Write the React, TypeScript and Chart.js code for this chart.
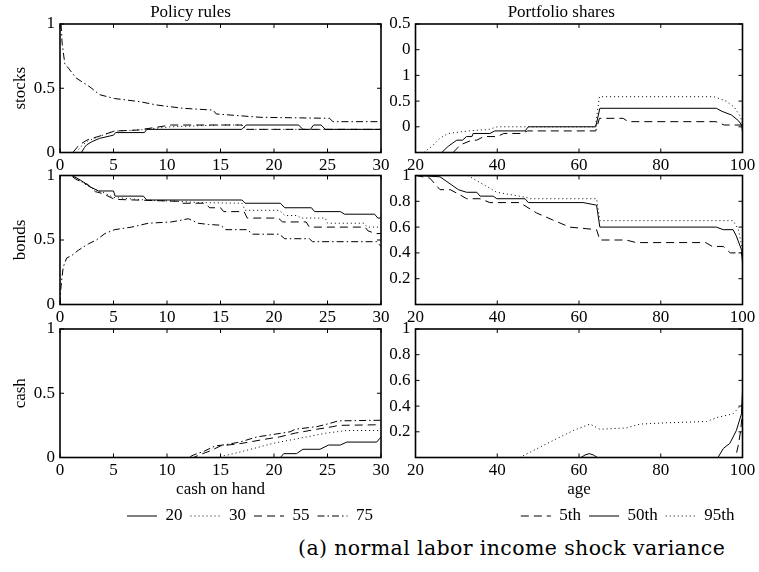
import React, { useEffect, useRef } from 'react';
import { Chart, registerables } from 'chart.js';
Chart.register(...registerables);

const FONT = "'Liberation Serif', 'Times New Roman', Times, serif";

// ---- tick values / labels ----
const cashTicks = [0, 5, 10, 15, 20, 25, 30];
const ageTicks = [20, 40, 60, 80, 100];
const policyYTicks = [0, 0.5, 1];
const shareYTicks = [0.2, 0.4, 0.6, 0.8, 1];
const stockShareYTicks = [0, 0.5, 1, 1.5, 2];
const stockShareYLabels = ['0', '0.5', '1', '0', '0.5'];

const policyLabels = ['20', '30', '55', '75'];
const shareLabels = ['5th', '50th', '95th'];

// ---- policy rules: [cash on hand, share] ----
const stocks20 = [[0, 0], [2, 0], [2.3, 0.04], [2.5, 0.06], [3, 0.085], [3.7, 0.11], [5, 0.135], [5.2, 0.155], [7.9, 0.155], [8.1, 0.18], [17, 0.18], [17.4, 0.214], [22.3, 0.214], [22.7, 0.18], [23.4, 0.18], [23.7, 0.214], [24.4, 0.214], [24.8, 0.18], [30, 0.18]];
const stocks30 = [[0, 0], [1.5, 0], [2, 0.05], [2.6, 0.09], [3.5, 0.12], [5, 0.165], [7.3, 0.175], [10.4, 0.2], [15, 0.214], [17, 0.214], [17.4, 0.18], [30, 0.18]];
const stocks55 = [[0, 0], [1.2, 0], [1.8, 0.06], [2.6, 0.1], [3.6, 0.125], [5.1, 0.167], [7.3, 0.175], [10.4, 0.214], [17, 0.214], [17.4, 0.18], [30, 0.18]];
const stocks75 = [[0.1, 1.0], [0.2, 0.85], [0.45, 0.69], [0.8, 0.655], [1.5, 0.58], [2.8, 0.51], [3.7, 0.45], [5.1, 0.42], [7.5, 0.395], [9, 0.37], [11.5, 0.344], [14.3, 0.33], [14.6, 0.3], [18.7, 0.274], [25.2, 0.266], [25.5, 0.24], [30, 0.24]];

const bonds20 = [[0, 1], [1.1, 1], [1.9, 0.965], [2.35, 0.94], [2.8, 0.913], [3.6, 0.88], [5, 0.88], [5.15, 0.84], [7.8, 0.84], [8.1, 0.81], [17, 0.81], [17.3, 0.785], [20.6, 0.785], [21, 0.75], [23.5, 0.75], [23.8, 0.72], [26.2, 0.72], [26.6, 0.7], [29.4, 0.7], [29.7, 0.67], [30, 0.67]];
const bonds30 = [[0, 1], [1.3, 1], [2, 0.95], [3, 0.9], [4, 0.87], [5, 0.83], [8, 0.81], [11, 0.8], [13, 0.79], [17, 0.785], [17.3, 0.73], [20.5, 0.73], [21, 0.69], [22.2, 0.69], [22.5, 0.67], [24.8, 0.67], [25, 0.63], [28.4, 0.63], [28.7, 0.6], [30, 0.6]];
const bonds55 = [[0, 1], [1, 1], [1.5, 0.97], [2.6, 0.93], [3.3, 0.875], [4, 0.86], [5.1, 0.815], [11, 0.8], [11.3, 0.785], [13.5, 0.785], [14, 0.75], [15, 0.75], [15.3, 0.72], [17.2, 0.72], [17.5, 0.67], [20.4, 0.67], [20.8, 0.64], [23, 0.64], [23.3, 0.6], [28.5, 0.6], [28.8, 0.57], [29.5, 0.55], [30, 0.55]];
const bonds75 = [[0, 0], [0.05, 0.1], [0.16, 0.19], [0.3, 0.29], [0.62, 0.36], [1.1, 0.38], [1.7, 0.42], [2.65, 0.47], [3.4, 0.5], [4.2, 0.55], [5.1, 0.58], [6.7, 0.6], [8.25, 0.63], [10.4, 0.64], [11.4, 0.655], [12, 0.665], [12.9, 0.63], [13.9, 0.62], [15, 0.615], [15.5, 0.58], [17.5, 0.58], [18, 0.545], [20.5, 0.545], [21, 0.51], [23.3, 0.51], [23.6, 0.487], [29.6, 0.487], [30, 0.45]];

const cash20 = [[0, 0], [20.6, 0], [20.9, 0.03], [22.1, 0.03], [22.7, 0.064], [24.3, 0.064], [25.1, 0.097], [26.2, 0.097], [26.8, 0.12], [29.6, 0.12], [29.9, 0.15], [30, 0.16]];
const cash30 = [[0, 0], [14.6, 0], [16.2, 0.03], [18.1, 0.07], [19.9, 0.11], [22.4, 0.15], [24.9, 0.19], [26.8, 0.21], [30, 0.21]];
const cash55 = [[0, 0], [12.5, 0], [13, 0.02], [14, 0.05], [15, 0.09], [17, 0.11], [19, 0.14], [20.5, 0.16], [22, 0.19], [24, 0.22], [25.5, 0.24], [26, 0.25], [30, 0.255]];
const cash75 = [[0, 0], [12, 0], [12.5, 0.02], [13.5, 0.05], [14.5, 0.09], [15.5, 0.1], [16.8, 0.12], [18.4, 0.16], [20, 0.18], [21.5, 0.2], [22, 0.22], [24, 0.24], [25.2, 0.265], [26, 0.285], [30, 0.29]];

// ---- portfolio shares: [age, share] ----
const stocksP5 = [[29.2, -0.5], [31, -0.35], [33.8, -0.26], [35, -0.26], [36.7, -0.19], [40, -0.19], [41.6, -0.13], [46, -0.13], [47.4, -0.08], [64.1, -0.08], [65, 0.165], [70.8, 0.165], [72, 0.1], [93.5, 0.1], [95.5, 0.035], [100, 0.035]];
const stocksP50 = [[26.4, -0.5], [28, -0.38], [30.1, -0.26], [31.5, -0.26], [32.5, -0.19], [33.8, -0.19], [34.1, -0.13], [38.2, -0.13], [39.4, -0.08], [46.8, -0.08], [47.6, 0], [64.1, 0], [65.1, 0.36], [93.6, 0.36], [95, 0.3], [97.3, 0.23], [99, 0.12], [99.8, 0.035], [100, -0.1]];
const stocksP95 = [[22, -0.5], [24, -0.38], [26, -0.22], [28, -0.13], [31, -0.1], [33, -0.08], [38, -0.05], [40, 0], [64, 0], [65, 0.585], [93, 0.585], [96, 0.5], [98, 0.38], [99.5, 0.2], [100, 0.05]];

const bondsP5 = [[20, 1], [23.5, 0.98], [26, 0.89], [28.5, 0.89], [30.9, 0.85], [32.5, 0.82], [35.8, 0.82], [38.2, 0.79], [45.5, 0.79], [49.6, 0.71], [53.6, 0.655], [57.7, 0.6], [64.3, 0.58], [65.1, 0.5], [71.5, 0.5], [74, 0.48], [91, 0.48], [92.6, 0.45], [95.3, 0.45], [97, 0.4], [99.8, 0.4], [100, 0.35]];
const bondsP50 = [[20, 1], [26, 0.99], [30.5, 0.89], [32.5, 0.87], [35, 0.87], [35.8, 0.84], [39, 0.84], [39.9, 0.82], [46.8, 0.82], [47.6, 0.79], [61, 0.79], [64.3, 0.77], [65.1, 0.6], [93.6, 0.6], [95.3, 0.58], [97.7, 0.58], [98.5, 0.53], [99.8, 0.42], [100, 0.32]];
const bondsP95 = [[20, 1], [32.8, 1], [39.9, 0.87], [47.2, 0.83], [48, 0.82], [64.3, 0.82], [65.1, 0.65], [97.7, 0.65], [99, 0.58], [100, 0.42]];

const cashP5 = [[20, 0], [98.3, 0], [99, 0.1], [99.5, 0.2], [100, 0.35]];
const cashP50 = [[20, 0], [60.5, 0], [61.5, 0.02], [62.5, 0.03], [63.5, 0.02], [64.5, 0], [94, 0], [95.3, 0.07], [96.9, 0.11], [98.5, 0.21], [99.75, 0.34], [100, 0.52]];
const cashP95 = [[20, 0], [45.5, 0], [52.9, 0.12], [58.6, 0.21], [62.7, 0.26], [65.1, 0.22], [71.6, 0.23], [74.9, 0.26], [81.4, 0.27], [91.2, 0.28], [93.6, 0.31], [97.7, 0.34], [100, 0.42]];

const SOLID: number[] = [];
const DOTTED = [1, 3];
const DASHED = [8, 5];
const DASHDOT = [7, 3, 1.5, 3];

const framePlugin = {
  id: 'matlabFrame',
  afterDatasetsDraw(chart: any) {
    const { ctx, chartArea, scales } = chart;
    const { left, top, right, bottom } = chartArea;
    const tl = 4;
    ctx.save();
    ctx.strokeStyle = '#000';
    ctx.lineWidth = 1;
    ctx.setLineDash([]);
    ctx.beginPath();
    scales.x.ticks.forEach((t: any) => {
      const px = scales.x.getPixelForValue(t.value);
      ctx.moveTo(px, bottom); ctx.lineTo(px, bottom - tl);
      ctx.moveTo(px, top); ctx.lineTo(px, top + tl);
    });
    scales.y.ticks.forEach((t: any) => {
      const py = scales.y.getPixelForValue(t.value);
      ctx.moveTo(left, py); ctx.lineTo(left + tl, py);
      ctx.moveTo(right, py); ctx.lineTo(right - tl, py);
    });
    ctx.stroke();
    ctx.lineWidth = 1.6;
    ctx.strokeRect(left, top, right - left, bottom - top);
    ctx.restore();
  },
};

type Spec = {
  left: number; top: number; width: number; height: number;
  yWidth: number; xHeight: number;
  padTop: number; padRight: number; padBottom: number;
  series: { label: string; data: number[][]; dash: number[] }[];
  xMin: number; xMax: number; xTicks: number[];
  yMin: number; yMax: number; yTicks: number[]; yLabels?: string[];
  title?: string; yTitle?: string; xTitle?: string; legend?: boolean;
};

function legendLabels(chart: any) {
  const items = (Chart.defaults as any).plugins.legend.labels.generateLabels(chart);
  items.forEach((it: any, i: number) => {
    const ds = chart.data.datasets[i];
    it.lineDash = ds.borderDash;
    it.lineWidth = 1;
    it.strokeStyle = '#000';
    it.fillStyle = '#000';
    it.pointStyle = 'line';
  });
  return items;
}

function buildConfig(s: Spec): any {
  const font = { family: FONT, size: 17 };
  return {
    type: 'line',
    data: {
      datasets: s.series.map((ser) => ({
        label: ser.label,
        data: ser.data.map(([x, y]) => ({ x, y })),
        borderColor: '#000',
        backgroundColor: '#000',
        borderWidth: 1,
        borderDash: ser.dash,
        pointRadius: 0,
        tension: 0,
        fill: false,
      })),
    },
    options: {
      responsive: false,
      animation: false,
      events: [],
      layout: { autoPadding: false, padding: { left: 0, right: s.padRight, top: s.padTop, bottom: s.padBottom } },
      scales: {
        x: {
          type: 'linear', min: s.xMin, max: s.xMax,
          afterBuildTicks: (sc: any) => { sc.ticks = s.xTicks.map((v) => ({ value: v })); },
          afterFit: (sc: any) => { sc.height = s.xHeight; },
          grid: { display: false, drawTicks: false },
          border: { display: false },
          ticks: { color: '#000', font, padding: 3, maxRotation: 0, autoSkip: false },
          title: s.xTitle
            ? { display: true, text: s.xTitle, color: '#000', font, padding: { top: 0, bottom: 0 } }
            : { display: false },
        },
        y: {
          type: 'linear', min: s.yMin, max: s.yMax,
          afterBuildTicks: (sc: any) => { sc.ticks = s.yTicks.map((v) => ({ value: v })); },
          afterFit: (sc: any) => { sc.width = s.yWidth; },
          grid: { display: false, drawTicks: false },
          border: { display: false },
          ticks: {
            color: '#000', font, padding: 5, autoSkip: false,
            callback: (v: any, i: number) => (s.yLabels ? s.yLabels[i] : String(v)),
          },
          title: s.yTitle
            ? { display: true, text: s.yTitle, color: '#000', font, padding: { top: 10.5, bottom: 0 } }
            : { display: false },
        },
      },
      plugins: {
        tooltip: { enabled: false },
        title: s.title
          ? { display: true, text: s.title, color: '#000', font: { family: FONT, size: 17, weight: 'normal' }, padding: { top: 2, bottom: 1.6 } }
          : { display: false },
        legend: s.legend
          ? {
              display: true, position: 'bottom', align: 'end',
              labels: {
                usePointStyle: true, pointStyle: 'line', pointStyleWidth: 30, padding: 8, color: '#000', font,
                generateLabels: legendLabels,
              },
            }
          : { display: false },
      },
    },
    plugins: [framePlugin],
  };
}

function Panel({ spec }: { spec: Spec }) {
  const ref = useRef<HTMLCanvasElement>(null);
  useEffect(() => {
    const chart = new Chart(ref.current as HTMLCanvasElement, buildConfig(spec));
    return () => chart.destroy();
  }, []);
  return (
    <canvas
      ref={ref}
      width={spec.width}
      height={spec.height}
      style={{ position: 'absolute', left: spec.left, top: spec.top, width: spec.width, height: spec.height }}
    />
  );
}

const L = { left: 0, width: 400, yWidth: 60, padRight: 19 };
const R = { left: 380, width: 379, yWidth: 35.5, padRight: 16.5 };

const specs: Spec[] = [
  {
    ...L, top: 0, height: 173, xHeight: 20, padTop: 0, padBottom: 0.5,
    series: [
      { label: policyLabels[0], data: stocks20, dash: SOLID },
      { label: policyLabels[1], data: stocks30, dash: DOTTED },
      { label: policyLabels[2], data: stocks55, dash: DASHED },
      { label: policyLabels[3], data: stocks75, dash: DASHDOT },
    ],
    xMin: 0, xMax: 30, xTicks: cashTicks, yMin: 0, yMax: 1, yTicks: policyYTicks,
    title: 'Policy rules', yTitle: 'stocks',
  },
  {
    ...R, top: 0, height: 173, xHeight: 20, padTop: 0, padBottom: 0.5,
    series: [
      { label: shareLabels[0], data: stocksP5, dash: DASHED },
      { label: shareLabels[1], data: stocksP50, dash: SOLID },
      { label: shareLabels[2], data: stocksP95, dash: DOTTED },
    ],
    xMin: 20, xMax: 100, xTicks: ageTicks, yMin: -0.5, yMax: 2, yTicks: stockShareYTicks, yLabels: stockShareYLabels,
    title: 'Portfolio shares',
  },
  {
    ...L, top: 152, height: 173, xHeight: 20, padTop: 23.5, padBottom: 0.5,
    series: [
      { label: policyLabels[0], data: bonds20, dash: SOLID },
      { label: policyLabels[1], data: bonds30, dash: DOTTED },
      { label: policyLabels[2], data: bonds55, dash: DASHED },
      { label: policyLabels[3], data: bonds75, dash: DASHDOT },
    ],
    xMin: 0, xMax: 30, xTicks: cashTicks, yMin: 0, yMax: 1, yTicks: policyYTicks,
    yTitle: 'bonds',
  },
  {
    ...R, top: 152, height: 173, xHeight: 20, padTop: 23.5, padBottom: 0.5,
    series: [
      { label: shareLabels[0], data: bondsP5, dash: DASHED },
      { label: shareLabels[1], data: bondsP50, dash: SOLID },
      { label: shareLabels[2], data: bondsP95, dash: DOTTED },
    ],
    xMin: 20, xMax: 100, xTicks: ageTicks, yMin: 0, yMax: 1, yTicks: shareYTicks,
  },
  {
    ...L, top: 306, height: 229, xHeight: 42, padTop: 23, padBottom: 0.5,
    series: [
      { label: policyLabels[0], data: cash20, dash: SOLID },
      { label: policyLabels[1], data: cash30, dash: DOTTED },
      { label: policyLabels[2], data: cash55, dash: DASHED },
      { label: policyLabels[3], data: cash75, dash: DASHDOT },
    ],
    xMin: 0, xMax: 30, xTicks: cashTicks, yMin: 0, yMax: 1, yTicks: policyYTicks,
    yTitle: 'cash', xTitle: 'cash on hand', legend: true,
  },
  {
    ...R, top: 306, height: 229, xHeight: 42, padTop: 23, padBottom: 0.5,
    series: [
      { label: shareLabels[0], data: cashP5, dash: DASHED },
      { label: shareLabels[1], data: cashP50, dash: SOLID },
      { label: shareLabels[2], data: cashP95, dash: DOTTED },
    ],
    xMin: 20, xMax: 100, xTicks: ageTicks, yMin: 0, yMax: 1, yTicks: shareYTicks,
    xTitle: 'age', legend: true,
  },
];

export default function App() {
  return (
    <div style={{ position: 'absolute', left: 0, top: 0, width: 759, height: 572, background: '#fff', overflow: 'hidden' }}>
      {specs.map((s, i) => (
        <Panel key={i} spec={s} />
      ))}
      <div
        style={{
          position: 'absolute', left: 298, top: 535, whiteSpace: 'nowrap',
          fontFamily: "'DejaVu Serif', serif", fontSize: 20.5, color: '#000', lineHeight: '26px', letterSpacing: 0.38,
        }}
      >
        (a) normal labor income shock variance
      </div>
    </div>
  );
}
